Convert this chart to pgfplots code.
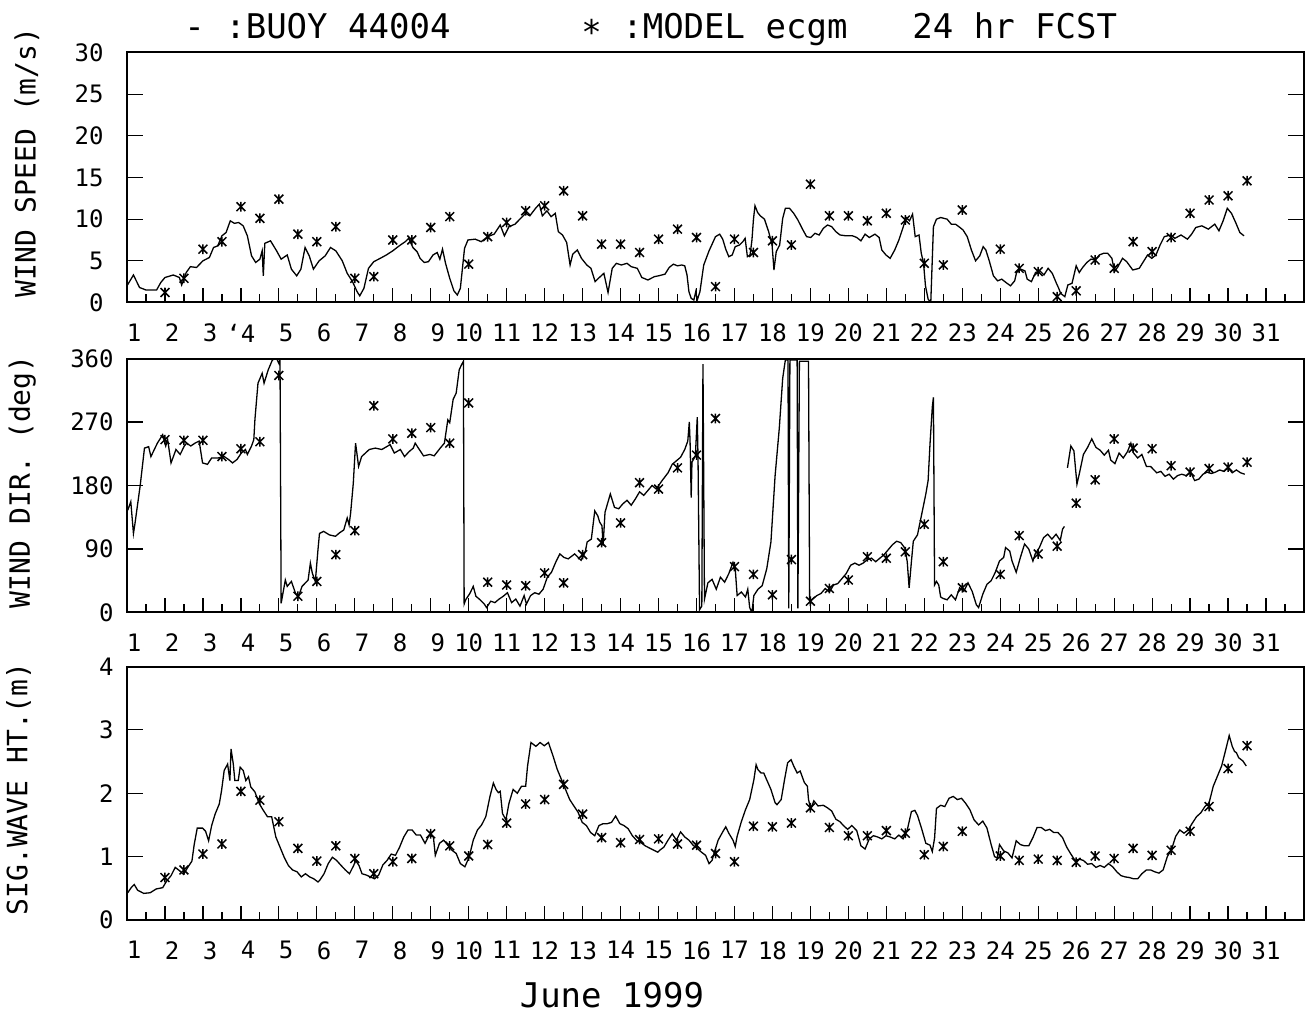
\documentclass[border=0pt]{standalone}
\usepackage{fontspec}
\setmainfont{DejaVu Sans Mono}
\usepackage{pgfplots}
\pgfplotsset{compat=1.18}
\newcommand\p[1]{\hphantom{0}#1}
\pgfdeclareplotmark{xstar}{%
  \pgfpathmoveto{\pgfqpoint{-\pgfplotmarksize}{-\pgfplotmarksize}}%
  \pgfpathlineto{\pgfqpoint{\pgfplotmarksize}{\pgfplotmarksize}}%
  \pgfpathmoveto{\pgfqpoint{-\pgfplotmarksize}{\pgfplotmarksize}}%
  \pgfpathlineto{\pgfqpoint{\pgfplotmarksize}{-\pgfplotmarksize}}%
  \pgfpathmoveto{\pgfqpoint{0pt}{-1.1\pgfplotmarksize}}%
  \pgfpathlineto{\pgfqpoint{0pt}{1.1\pgfplotmarksize}}%
  \pgfusepathqstroke}
\begin{document}
\begin{tikzpicture}
\path[use as bounding box] (0pt,0pt) rectangle (654pt,-508pt);
\pgfplotsset{
 panel/.style={
  scale only axis, width=588.5pt, anchor=north west,
  xmin=1, xmax=32,
  xtick={1,...,32}, minor x tick num=1,
  xtick pos=lower, ytick pos=both, tick align=inside,
  tick style={line width=0.6pt, black},
  xtick style={/pgfplots/major tick length=7pt,/pgfplots/minor tick length=4pt},
  ytick style={/pgfplots/major tick length=8pt},
  axis line style={line width=1pt},
  xticklabels={\p1,\p2,\p3,\p4,\p5,\p6,\p7,\p8,\p9,10,11,12,13,14,15,16,17,18,19,20,21,22,23,24,25,26,27,28,29,30,31,{}},
  xticklabel style={font=\fontsize{12}{14}\selectfont, anchor=north, inner sep=0pt, yshift=-10.5pt},
  yticklabel style={font=\fontsize{12}{14}\selectfont, anchor=east, inner sep=0pt, xshift=-6.5pt},
  every axis y label/.style={rotate=90, anchor=center, font=\fontsize{14}{16}\selectfont},
 },
 buoy/.style={line width=0.65pt, no marks, black},
 model/.style={only marks, black, mark=xstar, mark size=2.2pt, mark options={line width=0.75pt}},
}
% titles
\node[anchor=base west, inner sep=0pt, font=\fontsize{17}{20}\selectfont] at (92pt,-19.5pt) {- :BUOY 44004};
\node[anchor=base west, inner sep=0pt, font=\fontsize{17}{20}\selectfont] at (290.5pt,-19.5pt) {\raisebox{-3pt}{*} :MODEL ecgm};
\node[anchor=base west, inner sep=0pt, font=\fontsize{17}{20}\selectfont] at (456pt,-19.5pt) {24 hr FCST};

% ---------------- top: wind speed
\begin{axis}[panel, at={(63.5pt,-26.25pt)}, height=125pt,
  ymin=0, ymax=30, ytick={0,5,10,15,20,25,30}, yticklabels={0,5,10,15,20,25,30},
  yticklabel style={xshift=-5pt},
  xticklabels={\p1,\p2,\p3,\p{\llap{`}4},\p5,\p6,\p7,\p8,\p9,10,11,12,13,14,15,16,17,18,19,20,21,22,23,24,25,26,27,28,29,30,31,{}},
  ylabel={WIND SPEED (m/s)},
  every axis y label/.append style={at={(axis description cs:-0.085,0.56)}}]
\addplot[buoy] coordinates {
(1.0,2.0) (1.17,3.3) (1.33,1.8) (1.5,1.5) (1.78,1.5) (1.89,2.4) (2.0,3.0) (2.22,3.3) (2.38,3.0) (2.44,2.1) (2.56,3.6) (2.67,4.3) (2.83,4.2) (3.0,5.0) (3.17,5.4) (3.28,6.6) (3.39,6.8) (3.5,8.0) (3.61,8.4) (3.72,9.8) (3.83,9.5) (3.94,9.6) (4.06,9.2) (4.17,8.0) (4.28,5.6) (4.39,4.8) (4.5,5.2) (4.56,6.2) (4.59,3.2) (4.63,7.1) (4.78,7.4) (4.94,6.2) (5.06,5.2) (5.22,5.7) (5.33,4.0) (5.47,3.2) (5.58,4.0) (5.69,6.6) (5.8,5.6) (5.91,4.0) (6.06,5.0) (6.22,5.6) (6.36,6.6) (6.5,6.2) (6.67,5.0) (6.8,3.5) (6.94,2.5) (7.06,1.3) (7.13,0.8) (7.24,1.7) (7.36,4.1) (7.5,4.9) (7.67,5.3) (7.83,5.7) (8.0,6.2) (8.17,6.8) (8.33,7.3) (8.42,7.7) (8.53,6.6) (8.64,6.1) (8.72,5.3) (8.83,4.8) (8.94,4.9) (9.06,5.7) (9.17,6.0) (9.24,5.2) (9.31,6.4) (9.39,4.7) (9.5,2.9) (9.61,1.4) (9.7,0.9) (9.78,1.7) (9.89,6.5) (9.98,7.5) (10.17,7.6) (10.33,7.3) (10.5,7.9) (10.67,8.2) (10.83,9.3) (10.94,8.0) (11.06,9.1) (11.22,9.4) (11.39,10.2) (11.5,10.7) (11.61,10.4) (11.76,11.3) (11.86,11.8) (11.94,10.4) (12.06,11.0) (12.17,10.3) (12.28,10.7) (12.36,8.5) (12.47,8.1) (12.58,7.2) (12.67,4.5) (12.74,5.8) (12.86,6.3) (12.97,5.3) (13.11,4.5) (13.22,4.1) (13.33,2.5) (13.44,3.0) (13.56,3.5) (13.67,1.2) (13.78,4.1) (13.89,4.7) (14.02,4.5) (14.17,4.7) (14.28,4.3) (14.44,4.1) (14.56,3.0) (14.72,2.7) (14.89,3.1) (15.0,3.2) (15.17,3.4) (15.28,4.2) (15.39,4.6) (15.5,4.4) (15.61,4.5) (15.69,4.4) (15.75,3.3) (15.8,1.3) (15.86,0.5) (15.93,0.3) (15.98,1.3) (16.02,0.3) (16.09,1.3) (16.19,4.5) (16.33,6.2) (16.5,7.9) (16.61,8.2) (16.69,7.6) (16.77,6.4) (16.85,5.5) (16.94,5.7) (17.02,6.7) (17.13,6.9) (17.22,7.3) (17.28,7.7) (17.34,5.5) (17.41,5.7) (17.46,7.5) (17.5,10.0) (17.54,11.6) (17.61,10.8) (17.68,10.4) (17.79,10.0) (17.9,8.5) (17.99,6.9) (18.04,3.9) (18.1,6.1) (18.19,6.9) (18.27,10.1) (18.34,11.3) (18.45,11.3) (18.56,10.7) (18.67,9.9) (18.78,8.9) (18.9,7.9) (19.01,7.8) (19.12,8.3) (19.23,8.1) (19.34,8.9) (19.45,9.3) (19.56,9.1) (19.67,8.5) (19.78,8.1) (19.94,8.0) (20.11,8.0) (20.22,7.8) (20.33,7.4) (20.44,8.2) (20.55,7.8) (20.7,8.2) (20.81,7.8) (20.88,6.3) (20.99,5.7) (21.1,5.3) (21.22,6.3) (21.33,7.5) (21.44,9.0) (21.52,10.2) (21.61,9.8) (21.69,10.6) (21.76,7.9) (21.86,8.1) (21.92,5.9) (21.98,4.7) (22.03,2.0) (22.1,0.4) (22.17,0.0) (22.24,9.1) (22.32,10.0) (22.43,10.2) (22.6,10.0) (22.71,9.4) (22.82,9.4) (22.91,9.1) (23.02,8.7) (23.13,7.9) (23.24,6.3) (23.35,5.0) (23.46,5.6) (23.55,6.7) (23.62,6.3) (23.71,5.0) (23.82,3.2) (23.93,2.6) (24.04,2.8) (24.15,2.4) (24.27,2.0) (24.38,2.6) (24.43,3.6) (24.54,4.0) (24.65,3.8) (24.71,2.8) (24.82,2.5) (24.93,3.6) (25.04,3.8) (25.15,3.3) (25.26,4.1) (25.37,3.5) (25.48,2.3) (25.54,1.7) (25.59,1.1) (25.7,0.7) (25.78,2.1) (25.89,2.3) (26.0,4.4) (26.08,3.6) (26.17,4.2) (26.28,4.8) (26.39,5.2) (26.5,5.1) (26.61,5.7) (26.72,5.9) (26.83,5.9) (26.94,5.3) (27.01,3.7) (27.1,4.3) (27.22,5.3) (27.33,4.9) (27.49,3.9) (27.66,4.1) (27.77,4.9) (27.88,5.7) (27.99,5.3) (28.1,5.7) (28.21,6.9) (28.32,7.9) (28.49,8.1) (28.6,7.7) (28.76,8.1) (28.93,7.6) (29.04,8.2) (29.15,9.0) (29.31,9.2) (29.48,8.8) (29.65,9.4) (29.76,8.6) (29.87,9.8) (29.98,11.3) (30.09,10.7) (30.2,9.6) (30.31,8.4) (30.42,8.0)
};
\addplot[model] coordinates {
(2.0,1.2) (2.5,2.9) (3.0,6.4) (3.5,7.3) (4.0,11.5) (4.5,10.1) (5.0,12.4) (5.5,8.2) (6.0,7.3) (6.5,9.1) (7.0,2.9) (7.5,3.1) (8.0,7.5) (8.5,7.5) (9.0,9.0) (9.5,10.3) (10.0,4.6) (10.5,7.9) (11.0,9.6) (11.5,11.0) (12.0,11.6) (12.5,13.4) (13.0,10.4) (13.5,7.0) (14.0,7.0) (14.5,6.0) (15.0,7.6) (15.5,8.8) (16.0,7.8) (16.5,1.9) (17.0,7.6) (17.5,6.0) (18.0,7.4) (18.5,6.9) (19.0,14.2) (19.5,10.4) (20.0,10.4) (20.5,9.8) (21.0,10.7) (21.5,9.9) (22.0,4.7) (22.5,4.5) (23.0,11.1) (24.0,6.4) (24.5,4.1) (25.0,3.7) (25.5,0.7) (26.0,1.4) (26.5,5.1) (27.0,4.1) (27.5,7.3) (28.0,6.1) (28.5,7.8) (29.0,10.7) (29.5,12.3) (30.0,12.8) (30.5,14.6)
};
\end{axis}

% ---------------- middle: wind direction
\begin{axis}[panel, at={(63.5pt,-179.25pt)}, height=127pt,
  ymin=0, ymax=360, ytick={0,90,180,270,360}, yticklabels={0,90,180,270,360},
  ylabel={WIND DIR. (deg)},
  every axis y label/.append style={at={(axis description cs:-0.089,0.514)}}]
\addplot[buoy] coordinates {
(1.02,145) (1.1,157) (1.17,112) (1.21,126) (1.35,181) (1.46,233) (1.57,235) (1.63,221) (1.8,240) (1.94,252) (2.02,236) (2.07,245) (2.16,212) (2.29,231) (2.4,224) (2.51,236) (2.57,240) (2.68,236) (2.79,240) (2.9,243) (2.99,212) (3.12,210) (3.23,219) (3.4,219) (3.56,221) (3.67,217) (3.78,212) (3.9,217) (4.01,226) (4.12,231) (4.17,224) (4.28,236) (4.34,245) (4.37,274) (4.45,325) (4.56,339) (4.61,325) (4.72,344) (4.83,358) (4.94,360) (5.0,353) (5.03,359) (5.06,13) (5.17,46) (5.22,37) (5.33,44) (5.44,27) (5.52,23) (5.61,37) (5.7,42) (5.77,46) (5.83,70) (5.88,56) (5.96,44) (5.99,63) (6.03,89) (6.07,112) (6.18,115) (6.33,110) (6.49,108) (6.6,113) (6.71,117) (6.8,134) (6.85,124) (6.89,141) (6.96,183) (7.02,240) (7.1,207) (7.18,221) (7.38,231) (7.54,233) (7.71,231) (7.87,236) (7.93,238) (8.04,226) (8.2,231) (8.31,221) (8.43,228) (8.54,233) (8.59,240) (8.7,231) (8.81,222) (8.98,224) (9.09,222) (9.25,233) (9.36,240) (9.45,273) (9.5,269) (9.59,302) (9.67,311) (9.75,344) (9.81,351) (9.86,356) (9.88,12) (9.92,18) (10.03,27) (10.12,37) (10.19,23) (10.3,18) (10.41,12) (10.47,7) (10.58,16) (10.69,14) (10.8,19) (10.91,23) (11.02,28) (11.13,14) (11.24,19) (11.35,9) (11.46,24) (11.52,12) (11.63,24) (11.74,28) (11.85,26) (11.96,33) (12.07,50) (12.18,57) (12.29,71) (12.4,83) (12.51,78) (12.62,76) (12.79,83) (12.96,74) (13.07,86) (13.12,100) (13.23,104) (13.32,144) (13.4,137) (13.45,128) (13.51,123) (13.54,95) (13.59,142) (13.73,168) (13.84,149) (13.95,147) (14.06,154) (14.17,159) (14.28,152) (14.39,161) (14.5,171) (14.61,166) (14.72,173) (14.83,180) (14.94,175) (15.08,186) (15.25,198) (15.36,210) (15.47,215) (15.58,220) (15.69,231) (15.77,243) (15.81,270) (15.83,243) (15.86,163) (15.88,213) (15.97,222) (16.02,277) (16.04,218) (16.08,4) (16.14,9) (16.17,352) (16.21,19) (16.3,42) (16.41,47) (16.52,33) (16.63,50) (16.74,43) (16.85,55) (16.96,71) (17.02,62) (17.07,24) (17.18,29) (17.29,22) (17.35,33) (17.4,7) (17.46,0) (17.51,24) (17.62,33) (17.73,38) (17.85,62) (17.96,100) (18.07,194) (18.18,261) (18.27,332) (18.34,358) (18.41,358) (18.43,6) (18.46,358) (18.51,358) (18.65,358) (18.67,6) (18.71,356) (18.95,356) (18.98,15) (19.06,19) (19.17,24) (19.28,27) (19.39,34) (19.5,29) (19.61,39) (19.72,41) (19.83,48) (19.94,55) (20.06,67) (20.17,70) (20.28,67) (20.39,70) (20.5,75) (20.61,77) (20.72,72) (20.83,77) (20.94,82) (21.05,89) (21.16,96) (21.27,101) (21.38,99) (21.49,91) (21.55,72) (21.6,35) (21.66,72) (21.71,101) (21.82,110) (21.93,139) (22.04,168) (22.1,187) (22.15,239) (22.21,291) (22.24,305) (22.27,39) (22.32,44) (22.38,39) (22.43,22) (22.49,20) (22.6,18) (22.71,25) (22.82,18) (22.93,35) (23.04,30) (23.15,42) (23.26,30) (23.37,11) (23.43,7) (23.54,26) (23.65,40) (23.76,45) (23.87,57) (23.98,73) (24.09,78) (24.14,92) (24.25,87) (24.31,73) (24.42,57) (24.53,78) (24.64,97) (24.75,90) (24.86,73) (24.92,83) (25.03,92) (25.14,106) (25.25,111) (25.36,104) (25.47,111) (25.58,102) (25.64,118) (25.69,122)
};
\addplot[buoy] coordinates {
(25.77,205) (25.86,236) (25.94,229) (26.02,182) (26.08,196) (26.19,224) (26.3,234) (26.41,246) (26.52,234) (26.63,230) (26.74,223) (26.85,230) (26.91,216) (27.02,211) (27.13,226) (27.24,219) (27.35,228) (27.44,240) (27.51,226) (27.62,219) (27.73,224) (27.85,207) (27.96,207) (28.12,198) (28.23,200) (28.34,193) (28.45,196) (28.56,189) (28.67,194) (28.78,196) (28.9,194) (29.01,199) (29.12,187) (29.23,189) (29.34,196) (29.45,199) (29.56,197) (29.67,199) (29.78,202) (29.89,200) (30.0,205) (30.11,198) (30.22,202) (30.33,198) (30.44,196)
};
\addplot[model] coordinates {
(2.0,245) (2.5,244) (3.0,244) (3.5,221) (4.0,232) (4.5,242) (5.0,336) (5.5,23) (6.0,44) (6.5,82) (7.0,116) (7.5,293) (8.0,246) (8.5,254) (9.0,262) (9.5,240) (10.0,297) (10.5,43) (11.0,39) (11.5,38) (12.0,56) (12.5,42) (13.0,82) (13.5,99) (14.0,127) (14.5,184) (15.0,175) (15.5,205) (16.0,223) (16.5,275) (17.0,65) (17.5,54) (18.0,25) (18.5,75) (19.0,16) (19.5,34) (20.0,46) (20.5,79) (21.0,77) (21.5,86) (22.0,125) (22.5,72) (23.0,35) (24.0,54) (24.5,109) (25.0,83) (25.5,94) (26.0,155) (26.5,188) (27.0,246) (27.5,233) (28.0,232) (28.5,208) (29.0,199) (29.5,204) (30.0,206) (30.5,213)
};
\end{axis}

% ---------------- bottom: significant wave height
\begin{axis}[panel, at={(63.5pt,-333.25pt)}, height=126.75pt,
  ymin=0, ymax=4, ytick={0,1,2,3,4}, yticklabels={0,1,2,3,4},
  ylabel={SIG.WAVE HT.(m)},
  every axis y label/.append style={at={(axis description cs:-0.092,0.517)}},
  xlabel={June 1999},
  every axis x label/.style={at={(axis description cs:0.412,-0.345)}, anchor=base, inner sep=0pt, font=\fontsize{17}{20}\selectfont}]
\addplot[buoy] coordinates {
(1.02,0.43) (1.11,0.51) (1.19,0.56) (1.28,0.47) (1.44,0.42) (1.61,0.43) (1.77,0.49) (1.94,0.51) (2.05,0.62) (2.16,0.70) (2.27,0.83) (2.38,0.78) (2.49,0.72) (2.6,0.83) (2.71,0.93) (2.77,1.19) (2.85,1.45) (2.99,1.45) (3.07,1.40) (3.15,1.25) (3.23,1.49) (3.32,1.67) (3.43,1.83) (3.49,2.04) (3.56,2.36) (3.65,2.46) (3.71,2.20) (3.74,2.70) (3.80,2.46) (3.84,2.20) (3.93,2.20) (3.98,2.41) (4.06,2.36) (4.13,2.20) (4.20,2.26) (4.26,2.10) (4.37,2.02) (4.48,1.84) (4.59,1.73) (4.70,1.63) (4.81,1.63) (4.92,1.31) (5.03,1.15) (5.14,0.99) (5.25,0.86) (5.36,0.79) (5.48,0.76) (5.59,0.68) (5.70,0.73) (5.81,0.68) (5.92,0.65) (6.03,0.60) (6.08,0.63) (6.19,0.73) (6.30,0.89) (6.41,0.99) (6.52,0.94) (6.64,0.86) (6.75,0.79) (6.86,0.73) (6.97,0.86) (7.02,0.94) (7.11,0.86) (7.19,0.73) (7.30,0.71) (7.41,0.68) (7.52,0.65) (7.63,0.71) (7.74,0.87) (7.85,0.94) (7.96,1.04) (8.07,1.02) (8.18,1.15) (8.29,1.31) (8.40,1.42) (8.51,1.42) (8.62,1.34) (8.73,1.34) (8.85,1.21) (8.96,1.34) (9.07,1.31) (9.12,1.02) (9.23,1.21) (9.34,1.26) (9.45,1.18) (9.56,1.10) (9.67,1.05) (9.78,0.89) (9.90,0.84) (10.01,0.99) (10.12,1.26) (10.23,1.42) (10.34,1.50) (10.45,1.63) (10.56,1.95) (10.65,2.16) (10.72,2.06) (10.78,2.01) (10.83,2.03) (10.89,1.68) (10.98,1.58) (11.06,1.84) (11.17,2.06) (11.28,2.00) (11.39,2.11) (11.50,2.11) (11.55,2.43) (11.64,2.80) (11.77,2.74) (11.88,2.80) (11.99,2.75) (12.10,2.80) (12.22,2.59) (12.33,2.38) (12.44,2.22) (12.55,2.06) (12.66,1.90) (12.77,1.80) (12.88,1.70) (12.99,1.54) (13.10,1.49) (13.21,1.38) (13.32,1.33) (13.43,1.49) (13.54,1.52) (13.65,1.52) (13.76,1.54) (13.87,1.64) (13.98,1.52) (14.09,1.49) (14.20,1.44) (14.31,1.33) (14.43,1.25) (14.54,1.22) (14.65,1.17) (14.81,1.12) (14.98,1.07) (15.03,1.10) (15.14,1.15) (15.25,1.26) (15.36,1.36) (15.47,1.26) (15.58,1.39) (15.69,1.31) (15.80,1.26) (15.91,1.18) (16.02,1.13) (16.13,1.07) (16.24,1.02) (16.33,0.89) (16.41,0.94) (16.46,1.05) (16.57,1.26) (16.69,1.39) (16.77,1.47) (16.85,1.37) (16.96,1.26) (17.02,1.16) (17.07,1.32) (17.18,1.55) (17.29,1.74) (17.40,1.90) (17.51,2.21) (17.57,2.45) (17.62,2.37) (17.70,2.32) (17.77,2.32) (17.85,2.21) (17.96,2.06) (18.07,1.85) (18.12,1.82) (18.23,1.90) (18.32,2.22) (18.40,2.48) (18.49,2.53) (18.56,2.43) (18.65,2.32) (18.73,2.35) (18.84,2.17) (18.92,2.11) (18.95,1.90) (19.01,1.75) (19.09,1.88) (19.20,1.80) (19.34,1.81) (19.45,1.77) (19.56,1.72) (19.67,1.59) (19.78,1.55) (19.87,1.49) (19.98,1.43) (20.09,1.49) (20.22,1.41) (20.33,1.17) (20.44,1.12) (20.55,1.28) (20.66,1.33) (20.77,1.31) (20.88,1.28) (20.99,1.33) (21.10,1.31) (21.22,1.28) (21.33,1.34) (21.44,1.28) (21.55,1.42) (21.66,1.71) (21.75,1.73) (21.82,1.65) (21.93,1.44) (22.04,1.21) (22.15,1.18) (22.21,1.08) (22.27,1.29) (22.32,1.76) (22.43,1.81) (22.54,1.79) (22.65,1.92) (22.76,1.95) (22.87,1.90) (22.98,1.92) (23.09,1.84) (23.20,1.74) (23.31,1.58) (23.43,1.50) (23.54,1.56) (23.65,1.45) (23.76,1.19) (23.85,1.00) (23.92,0.98) (23.98,1.19) (24.09,1.09) (24.20,1.06) (24.31,0.98) (24.42,1.25) (24.53,1.19) (24.64,1.17) (24.75,1.17) (24.86,1.30) (24.97,1.46) (25.08,1.46) (25.19,1.41) (25.30,1.43) (25.41,1.38) (25.52,1.38) (25.64,1.30) (25.75,1.15) (25.86,1.04) (25.97,0.94) (26.08,0.96) (26.19,0.94) (26.30,0.88) (26.41,0.89) (26.52,0.83) (26.63,0.86) (26.74,0.83) (26.85,0.89) (26.96,0.84) (27.07,0.76) (27.18,0.70) (27.29,0.68) (27.40,0.67) (27.51,0.65) (27.62,0.65) (27.73,0.73) (27.85,0.79) (27.96,0.79) (28.07,0.76) (28.18,0.74) (28.29,0.79) (28.40,1.00) (28.51,1.11) (28.62,1.32) (28.73,1.42) (28.84,1.37) (28.95,1.42) (29.06,1.53) (29.17,1.63) (29.28,1.69) (29.39,1.79) (29.50,1.85) (29.61,2.11) (29.72,2.27) (29.83,2.43) (29.94,2.69) (30.03,2.91) (30.11,2.74) (30.17,2.66) (30.22,2.64) (30.28,2.56) (30.39,2.51) (30.48,2.43)
};
\addplot[model] coordinates {
(2.0,0.67) (2.5,0.79) (3.0,1.04) (3.5,1.20) (4.0,2.03) (4.5,1.89) (5.0,1.55) (5.5,1.13) (6.0,0.93) (6.5,1.17) (7.0,0.97) (7.5,0.73) (8.0,0.92) (8.5,0.97) (9.0,1.36) (9.5,1.17) (10.0,1.01) (10.5,1.19) (11.0,1.53) (11.5,1.83) (12.0,1.90) (12.5,2.14) (13.0,1.67) (13.5,1.30) (14.0,1.22) (14.5,1.27) (15.0,1.28) (15.5,1.20) (16.0,1.18) (16.5,1.05) (17.0,0.92) (17.5,1.48) (18.0,1.47) (18.5,1.53) (19.0,1.77) (19.5,1.46) (20.0,1.33) (20.5,1.33) (21.0,1.41) (21.5,1.37) (22.0,1.03) (22.5,1.16) (23.0,1.40) (24.0,1.01) (24.5,0.94) (25.0,0.96) (25.5,0.94) (26.0,0.91) (26.5,1.01) (27.0,0.97) (27.5,1.13) (28.0,1.02) (28.5,1.10) (29.0,1.40) (29.5,1.79) (30.0,2.39) (30.5,2.75)
};
\end{axis}
\end{tikzpicture}
\end{document}
